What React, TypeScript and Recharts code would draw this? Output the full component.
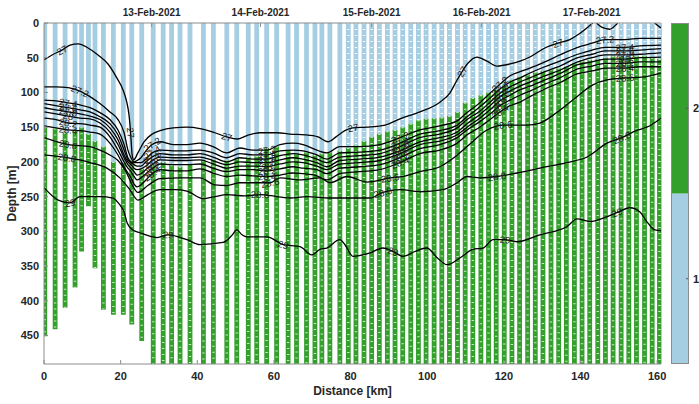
import React from 'react';
import { LineChart, Line, XAxis, YAxis, Legend, ReferenceLine } from 'recharts';

const CLASS1 = '#a6cee3';
const CLASS2 = '#33a02c';
const AXIS = '#8c8c8c';
const TEXT = '#262626';
const FONT = '"Liberation Sans", Arial, Helvetica, sans-serif';

// Glider profile positions along the transect (km)
const profileDist = [
  0.2, 2.9, 5.5, 8.1, 9.8, 11.6, 13.3, 15.5, 18.1, 20.7, 22.9, 25.5, 28.5, 31.1, 33.3, 35.5,
  38.1, 41.6, 44.2, 47.7, 50.3, 53.3, 55.5, 58.1, 60.7, 63.7, 65.9, 68.5, 70.7, 72.5, 74.6, 77.2,
  79.4, 81.4, 83.5, 85.5, 87.5, 89.6, 91.6, 93.6, 95.7, 97.7, 99.7, 101.8, 103.8, 105.8, 107.9,
  109.9, 111.9, 114.0, 116.0, 118.0, 120.1, 122.1, 124.1, 126.2, 128.2, 130.2, 132.3, 134.3,
  136.3, 138.4, 140.4, 142.4, 144.5, 146.5, 148.5, 150.6, 152.6, 154.6, 156.7, 158.7, 160.6,
];
// Depth (m) where each profile changes from class 1 to class 2
const profileSwitch = [
  150, 152, 158, 155, 150, 160, 170, 178, 200, 200, 197, 210, 205, 200, 205, 207,
  203, 198, 197, 198, 195, 193, 192, 180, 178, 183, 188, 186, 190, 188, 186, 184,
  180, 176, 170, 164, 160, 156, 154, 150, 145, 140, 138, 137, 136, 134, 128,
  115, 108, 104, 100, 96, 90, 82, 77, 74, 71, 69, 67, 65,
  63, 58, 55, 53, 52, 50, 48, 48, 50, 48, 47, 50, 52,
];
// Deepest sample of each profile (m)
const profileBottom = [
  451, 441, 410, 381, 329, 264, 353, 413, 420, 420, 434, 458, 491, 491, 491, 491,
  491, 491, 491, 491, 491, 491, 491, 491, 491, 491, 491, 491, 491, 491, 491, 491,
  491, 491, 491, 491, 491, 491, 491, 491, 491, 491, 491, 491, 491, 491, 491,
  491, 491, 491, 491, 491, 491, 491, 491, 491, 491, 491, 491, 491,
  491, 491, 491, 491, 491, 491, 491, 491, 491, 491, 491, 491, 491,
];

// Axis ticks
const distTicks = [0, 20, 40, 60, 80, 100, 120, 140, 160];
const depthTicks = [0, 50, 100, 150, 200, 250, 300, 350, 400, 450];
const dateTicks = [28.1, 56.5, 85.5, 114.2, 142.9];
const dateLabels = ['13-Feb-2021', '14-Feb-2021', '15-Feb-2021', '16-Feb-2021', '17-Feb-2021'];

// Colour bar classes
const classNames = ['1', '2'];
const classColors = [CLASS1, CLASS2];

// Isoline 27
const iso27Dist = [
  0, 2.1, 4.7, 6.8, 8.9, 11.5, 14.1, 16.7, 19.0, 20.6, 21.6, 22.1, 22.4, 22.6, 22.8, 23.0, 23.4,
  24.5, 26.1, 28.2, 30.3, 33.7, 37.3, 40.7, 44.1, 47.7, 50.4, 53.0, 56.4, 60.8, 64.2, 68.1, 71.5,
  74.1, 76.2, 78.5, 80.6, 84.3, 89.0, 92.9, 98.1, 103.3, 105.9, 107.5, 109.1, 110.6, 113.0, 115.6,
  118.2, 121.6, 124.2, 126.8, 130.7, 134.1, 137.2, 139.3, 141.9, 143.2,
];
const iso27Depth = [
  53, 46, 39, 32, 30, 36, 46, 59, 79, 96, 114, 129, 144, 158, 175, 190, 197,
  187, 171, 160, 155, 151, 150, 152, 157, 164, 167, 162, 158, 158, 160, 161, 164,
  171, 164, 155, 151, 150, 147, 138, 128, 114, 101, 85, 70, 58, 49, 55,
  62, 59, 55, 49, 36, 29, 24, 17, 6, 0,
];
const iso27bDist = [144.2, 145.5, 147.6, 149.2, 149.7];
const iso27bDepth = [0, 6, 9, 3, 0];
const iso27cDist = [159.4, 160.2, 161];
const iso27cDepth = [0, 4, 7];

// Shared distance grid for the packed isolines 27.2 - 28.4
const isoGridDist = [
  0, 3.1, 6.3, 9.4, 12.0, 14.6, 17.2, 19.3, 20.9, 21.9, 22.7, 23.5, 24.3, 25.3, 26.6, 28.2, 30.3,
  33.7, 37.3, 40.7, 44.1, 47.7, 51.1, 54.5, 58.2, 61.6, 65.0, 67.6, 71.2, 73.8, 77.2, 82.4, 87.7, 92.9,
  98.1, 103.3, 107.8, 110.4, 113.7, 116.4, 119.0, 121.6, 124.2, 126.8, 130.7, 134.6, 139.3, 143.0,
  146.4, 151.6, 155.5, 161.0,
];
const iso272 = [
  92, 92, 93, 98, 106, 116, 128, 139, 158, 183, 194, 200, 198, 194, 184, 175, 171,
  175, 175, 173, 178, 187, 180, 183, 183, 175, 173, 175, 183, 187, 178, 178, 175, 165,
  154, 148, 141, 129, 115, 101, 88, 76, 70, 65, 56, 46, 35, 29, 24, 24, 22, 22,
];
const iso274 = [
  111, 112, 115, 118, 122, 129, 139, 154, 175, 194, 200, 201, 201, 201, 196, 187, 183,
  184, 184, 183, 187, 194, 188, 190, 190, 184, 183, 184, 190, 196, 187, 186, 183, 173,
  160, 155, 147, 135, 121, 108, 95, 85, 79, 72, 63, 55, 45, 39, 35, 35, 33, 32,
];
const iso276 = [
  116, 119, 122, 125, 128, 135, 145, 161, 183, 197, 201, 204, 206, 206, 200, 193, 188,
  190, 190, 188, 193, 200, 194, 196, 196, 191, 188, 190, 196, 201, 193, 191, 188, 178,
  165, 160, 151, 139, 127, 114, 101, 92, 85, 79, 70, 62, 50, 45, 40, 40, 39, 37,
];
const iso278 = [
  122, 125, 128, 131, 134, 139, 151, 168, 190, 200, 204, 209, 211, 210, 206, 198, 193,
  194, 194, 193, 198, 204, 200, 201, 201, 197, 194, 196, 201, 207, 198, 196, 193, 184,
  171, 165, 157, 145, 132, 119, 106, 98, 91, 85, 76, 68, 56, 50, 46, 46, 45, 43,
];
const iso280 = [
  128, 131, 134, 137, 138, 144, 157, 175, 194, 204, 209, 214, 219, 217, 211, 204, 197,
  198, 198, 197, 203, 209, 206, 206, 207, 203, 200, 201, 206, 211, 203, 201, 198, 188,
  175, 170, 161, 150, 137, 125, 112, 104, 96, 91, 82, 73, 60, 56, 52, 52, 50, 49,
];
const iso282 = [
  137, 139, 144, 145, 147, 150, 164, 183, 200, 209, 214, 221, 226, 223, 217, 210, 203,
  204, 204, 203, 209, 214, 211, 211, 213, 210, 207, 209, 211, 217, 209, 207, 204, 194,
  181, 175, 165, 154, 142, 131, 119, 111, 104, 98, 88, 79, 66, 62, 58, 58, 56, 56,
];
const iso284 = [
  148, 151, 154, 155, 157, 160, 173, 190, 207, 216, 223, 232, 236, 233, 226, 217, 211,
  213, 213, 210, 216, 221, 219, 220, 221, 219, 216, 217, 220, 226, 217, 214, 211, 201,
  188, 183, 173, 161, 150, 139, 128, 119, 114, 106, 95, 86, 73, 69, 65, 65, 63, 63,
];

// Isoline 28.6
const iso286Dist = [
  0, 6.3, 12.0, 14.6, 17.2, 19.3, 21.4, 23.0, 24.5, 27.1, 30.3, 35.5, 40.7, 44.6, 47.7, 51.1,
  55.0, 59.0, 61.6, 66.8, 72.0, 74.6, 79.1, 84.3, 90.3, 93.7, 98.1, 103.3, 107.2, 110.4, 115.6,
  119.8, 126.0, 129.4, 133.8, 138.0, 143.2, 146.9, 151.6, 156.0, 161,
];
const iso286Depth = [
  165, 175, 178, 183, 190, 198, 214, 233, 244, 234, 224, 223, 223, 233, 234, 230,
  230, 230, 223, 226, 223, 230, 221, 229, 223, 221, 214, 207, 193, 178, 154,
  147, 147, 144, 129, 111, 89, 82, 79, 78, 72,
];

// Isoline 28.8
const iso288Dist = [
  0, 6.0, 12.0, 16.4, 19.8, 22.4, 24.5, 27.1, 30.3, 34.2, 37.3, 41.5, 44.6, 47.7, 52.4, 56.4,
  60.8, 64.2, 68.6, 74.6, 80.6, 85.1, 88.4, 92.9, 98.1, 104.1, 107.8, 110.4, 113.7, 118.2, 123.4,
  129.4, 136.5, 141.7, 146.9, 150.8, 155.0, 157.3, 161,
];
const iso288Depth = [
  190, 194, 201, 209, 223, 240, 255, 247, 240, 240, 242, 253, 250, 247, 249, 247,
  250, 252, 250, 252, 252, 252, 244, 240, 243, 240, 230, 221, 223, 221, 216,
  209, 201, 193, 173, 165, 154, 150, 137,
];

// Isoline 29
const iso29Dist = [
  0, 3.7, 6.8, 9.4, 14.6, 18.0, 19.8, 20.9, 21.7, 23.2, 25.0, 29.5, 32.4, 37.3, 40.7, 46.7, 49.0,
  50.3, 51.7, 52.9, 58.2, 62.4, 66.8, 69.9, 72.0, 73.8, 77.2, 78.5, 80.6, 85.1, 88.4, 91.1, 93.7,
  96.8, 99.9, 102.6, 105.2, 108.6, 111.9, 114.6, 117.2, 120.3, 123.4, 129.4, 136.5, 139.1, 142.5,
  146.4, 149.5, 152.9, 155.5, 157.3, 159.4, 161,
];
const iso29Depth = [
  237, 255, 259, 250, 250, 252, 262, 272, 288, 298, 302, 309, 305, 312, 319, 316, 306,
  298, 305, 308, 308, 319, 322, 334, 326, 324, 312, 319, 336, 331, 324, 329, 336,
  329, 324, 338, 348, 338, 326, 324, 312, 312, 315, 305, 293, 282, 286,
  280, 273, 266, 272, 286, 298, 299,
];

// Where the inline isoline labels sit (km)
const packedLabelDist = [6.3, 28.2, 58.2, 92.9, 119.0, 151.6];

type Row = { x: number; d: number | null; lab?: boolean };

const toRows = (dist: number[], depth: number[], labelDist: number[]): Row[] => {
  const rows: Row[] = dist.map((x, i) => ({ x, d: depth[i], lab: false }));
  labelDist.forEach((L) => {
    let best = 0;
    rows.forEach((r, i) => {
      if (Math.abs(r.x - L) < Math.abs(rows[best].x - L)) best = i;
    });
    rows[best].lab = true;
  });
  return rows;
};

const contours = [
  { id: 'c27', level: '27', rows: toRows(iso27Dist, iso27Depth, [4.7, 22.6, 47.7, 80.6, 109.1, 134.1]) },
  { id: 'c27b', level: '27', rows: toRows(iso27bDist, iso27bDepth, []) },
  { id: 'c27c', level: '27', rows: toRows(iso27cDist, iso27cDepth, []) },
  { id: 'c272', level: '27.2', rows: toRows(isoGridDist, iso272, [9.4, 28.2, 58.2, 92.9, 119.0, 146.4]) },
  { id: 'c274', level: '27.4', rows: toRows(isoGridDist, iso274, packedLabelDist) },
  { id: 'c276', level: '27.6', rows: toRows(isoGridDist, iso276, packedLabelDist) },
  { id: 'c278', level: '27.8', rows: toRows(isoGridDist, iso278, packedLabelDist) },
  { id: 'c280', level: '28', rows: toRows(isoGridDist, iso280, packedLabelDist) },
  { id: 'c282', level: '28.2', rows: toRows(isoGridDist, iso282, packedLabelDist) },
  { id: 'c284', level: '28.4', rows: toRows(isoGridDist, iso284, packedLabelDist) },
  { id: 'c286', level: '28.6', rows: toRows(iso286Dist, iso286Depth, [6.3, 59.0, 90.3, 119.8, 151.6]) },
  { id: 'c288', level: '28.8', rows: toRows(iso288Dist, iso288Depth, [6.0, 56.4, 88.4, 118.2, 150.8]) },
  { id: 'c29', level: '29', rows: toRows(iso29Dist, iso29Depth, [6.8, 32.4, 62.4, 91.1, 120.3, 149.5]) },
];

// Profiles as vertical segments separated by gaps
const class1Left: Row[] = [];
const class1Right: Row[] = [];
const class2Rows: Row[] = [];
profileDist.forEach((x, i) => {
  const upper = x < 78 ? class1Left : class1Right;
  upper.push({ x, d: 0 }, { x, d: profileSwitch[i] }, { x, d: null });
  class2Rows.push({ x, d: profileSwitch[i] }, { x, d: profileBottom[i] }, { x, d: null });
});

// Empty series tied to the date axis so that axis gets drawn
const dateRows: Row[] = dateTicks.map((x) => ({ x, d: null }));

const makeIsoLabel = (level: string) => (props: any) => {
  const { cx, cy, index, payload, points } = props;
  if (!payload || !payload.lab || typeof cx !== 'number' || typeof cy !== 'number') {
    return <g key={`n-${index}`} />;
  }
  let angle = 0;
  if (Array.isArray(points) && points.length > 1) {
    const a = points[Math.max(0, index - 1)];
    const b = points[Math.min(points.length - 1, index + 1)];
    if (a && b && a.y != null && b.y != null) {
      angle = (Math.atan2(b.y - a.y, b.x - a.x) * 180) / Math.PI;
      if (angle > 90) angle -= 180;
      if (angle < -90) angle += 180;
    }
  }
  return (
    <text
      key={`l-${index}`}
      x={cx}
      y={cy}
      transform={`rotate(${angle.toFixed(1)} ${cx} ${cy})`}
      textAnchor="middle"
      dominantBaseline="central"
      fontSize={9.5}
      fontFamily={FONT}
      fill="#222222"
    >
      {level}
    </text>
  );
};

const tickStyle = { fill: TEXT, fontSize: 11, fontWeight: 700, fontFamily: FONT };
const dateTickStyle = { fill: TEXT, fontSize: 10, fontWeight: 700, fontFamily: FONT };

const DepthTitle = (props: any) => {
  const vb = props.viewBox || { x: 0, y: 23, width: 44, height: 341 };
  const x = vb.x + 16;
  const y = vb.y + vb.height / 2;
  return (
    <text x={x} y={y} transform={`rotate(-90 ${x} ${y})`} textAnchor="middle" fill={TEXT}
      fontSize={12} fontWeight={700} fontFamily={FONT}>
      Depth [m]
    </text>
  );
};

const DistanceTitle = (props: any) => {
  const vb = props.viewBox || { x: 44, y: 364, width: 617, height: 40 };
  return (
    <text x={vb.x + vb.width / 2} y={vb.y + 31} textAnchor="middle" fill={TEXT}
      fontSize={12} fontWeight={700} fontFamily={FONT}>
      Distance [km]
    </text>
  );
};

const ColorBar = () => {
  const h = 341;
  const barX = 9;
  const barW = 18;
  const seg = h / classNames.length;
  return (
    <svg width={37} height={h} style={{ display: 'block', overflow: 'visible' }}>
      {classNames.map((name, i) => {
        const top = h - (i + 1) * seg;
        const mid = top + seg / 2;
        return (
          <g key={name}>
            <rect x={barX} y={top} width={barW} height={seg} fill={classColors[i]} />
            <line x1={barX + barW - 3} x2={barX + barW} y1={mid} y2={mid} stroke="#555" />
            <text x={barX + barW + 4} y={mid} dominantBaseline="central" fill={TEXT}
              fontSize={11} fontWeight={700} fontFamily={FONT}>
              {name}
            </text>
          </g>
        );
      })}
      <rect x={barX + 0.5} y={0.5} width={barW - 1} height={h - 1} fill="none" stroke={AXIS} />
    </svg>
  );
};

const BAR_W = 4.8;
const barLine = { type: 'linear' as const, dot: false, activeDot: false, isAnimationActive: false, legendType: 'none' as const };

export default function App() {
  return (
    <div style={{ position: 'absolute', left: 0, top: 0, width: 699, height: 404, background: '#ffffff' }}>
      <LineChart width={699} height={404} margin={{ top: 0, right: 38, bottom: 0, left: 0 }}
        style={{ fontFamily: FONT }}>
        <XAxis xAxisId={0} dataKey="x" type="number" domain={[0, 161]} allowDataOverflow
          ticks={distTicks} interval={0} height={40} tickSize={-4} tickMargin={12}
          stroke={AXIS} tick={tickStyle} label={DistanceTitle} />
        <XAxis xAxisId="top" dataKey="x" orientation="top" type="number" domain={[0, 161]} allowDataOverflow
          ticks={dateTicks} interval={0} height={23} tickSize={-4} tickMargin={11}
          tickFormatter={(v: number) => dateLabels[dateTicks.indexOf(v)] ?? ''}
          stroke={AXIS} tick={dateTickStyle} />
        <YAxis yAxisId={0} type="number" domain={[0, 491]} reversed allowDataOverflow
          ticks={depthTicks} interval={0} width={44} tickSize={-4} tickMargin={9}
          stroke={AXIS} tick={tickStyle} label={DepthTitle} />
        <ReferenceLine x={161} stroke={AXIS} />

        {/* class 1 and class 2 sections of each profile */}
        <Line data={class1Left} dataKey="d" stroke={CLASS1} strokeWidth={BAR_W} {...barLine} />
        <Line data={class1Right} dataKey="d" stroke={CLASS1} strokeWidth={BAR_W} {...barLine} />
        <Line data={class2Rows} dataKey="d" stroke={CLASS2} strokeWidth={BAR_W} {...barLine} />
        {/* gaps between individual samples along each profile */}
        <Line data={class1Right} dataKey="d" stroke="#ffffff" strokeOpacity={0.85} strokeWidth={2.4}
          strokeDasharray="1 5" {...barLine} />
        <Line data={class2Rows} dataKey="d" stroke="#ffffff" strokeOpacity={0.75} strokeWidth={2.4}
          strokeDasharray="1 5" {...barLine} />

        {contours.map((c) => (
          <Line key={c.id} data={c.rows} dataKey="d" type="monotone" stroke="#000000" strokeWidth={1.3}
            dot={makeIsoLabel(c.level)} activeDot={false} isAnimationActive={false} legendType="none" />
        ))}

        <Line xAxisId="top" data={dateRows} dataKey="d" stroke="none" dot={false} activeDot={false}
          isAnimationActive={false} legendType="none" />

        <Legend layout="vertical" align="center" verticalAlign="middle" content={<ColorBar />}
          wrapperStyle={{ left: 662, top: 23, width: 37, height: 341 }} />
      </LineChart>
    </div>
  );
}
